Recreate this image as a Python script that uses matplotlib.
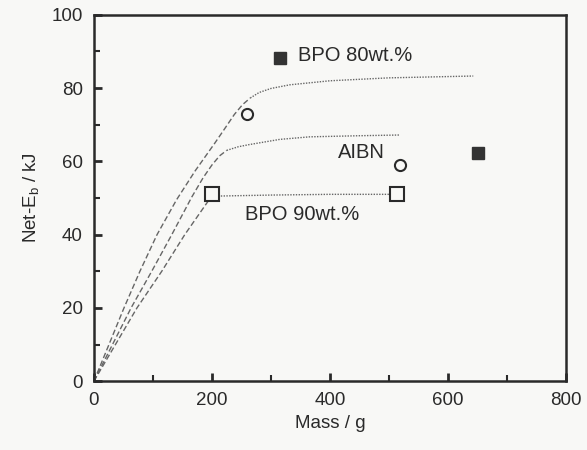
import numpy as np
import matplotlib.pyplot as plt
from matplotlib.ticker import MultipleLocator

# curves: rising (dashed) part and plateau (dotted) part
bpo80_rise_x = [0, 51, 78, 107, 140, 172, 205, 222, 238, 252, 265]
bpo80_rise_y = [0, 20, 30, 40, 49.5, 57.5, 65, 69, 72.8, 75.5, 77.3]
bpo80_flat_x = [265, 280, 300, 332, 400, 500, 643]
bpo80_flat_y = [77.3, 78.8, 79.9, 80.9, 82, 82.8, 83.3]

aibn_rise_x = [0, 63, 98, 132, 166, 185, 200, 213, 225]
aibn_rise_y = [0, 20, 30, 40, 50.3, 55.5, 59, 61.5, 63]
aibn_flat_x = [225, 245, 264, 315, 366, 450, 519]
aibn_flat_y = [63, 64, 64.6, 66.0, 66.7, 67.0, 67.2]

bpo90_rise_x = [0, 73, 115, 154, 180, 193, 201]
bpo90_rise_y = [0, 20, 30, 40, 46, 49, 50.5]
bpo90_flat_x = [201, 300, 400, 514]
bpo90_flat_y = [50.5, 50.8, 51.0, 51.0]

# measured points
bpo80_pts_x = [316, 651]
bpo80_pts_y = [88.3, 62.3]
aibn_pts_x = [259, 519]
aibn_pts_y = [72.8, 59.0]
bpo90_pts_x = [201, 514]
bpo90_pts_y = [51.0, 51.0]

ink = '#2a2a2a'
bg = '#f8f8f6'

plt.rcParams['font.family'] = ['Liberation Sans', 'DejaVu Sans']

fig = plt.figure(figsize=(5.87, 4.5), dpi=100, facecolor=bg)
ax = fig.add_axes([0.160, 0.153, 0.804, 0.814])
ax.set_facecolor(bg)

#-----------------------------------------------------------------------------

line_col = '#666666'
ax.plot(bpo80_rise_x, bpo80_rise_y, color=line_col, lw=1.0, ls=(0, (4, 2)))
ax.plot(bpo80_flat_x, bpo80_flat_y, color=line_col, lw=1.0, ls=(0, (1, 1)))
ax.plot(aibn_rise_x, aibn_rise_y, color=line_col, lw=1.0, ls=(0, (4, 2)))
ax.plot(aibn_flat_x, aibn_flat_y, color=line_col, lw=1.0, ls=(0, (1, 1)))
ax.plot(bpo90_rise_x, bpo90_rise_y, color=line_col, lw=1.0, ls=(0, (4, 2)))
ax.plot(bpo90_flat_x, bpo90_flat_y, color=line_col, lw=1.0, ls=(0, (1, 1)))

ax.plot(bpo80_pts_x, bpo80_pts_y, 's', ms=8.5, color='#333333', mec='#333333', zorder=5)
ax.plot(aibn_pts_x, aibn_pts_y, 'o', ms=8, mfc=bg, mec=ink, mew=1.5, zorder=5)
ax.plot(bpo90_pts_x, bpo90_pts_y, 's', ms=9.5, mfc=bg, mec=ink, mew=1.5, zorder=5)

ax.text(346, 89, 'BPO 80wt.%', fontsize=14.5, color=ink, va='center', ha='left')
ax.text(413, 62.3, 'AIBN', fontsize=14.5, color=ink, va='center', ha='left')
ax.text(256, 45.4, 'BPO 90wt.%', fontsize=14.5, color=ink, va='center', ha='left')

#-----------------------------------------------------------------------------

ax.set_xlim(0, 800)
ax.set_ylim(0, 100)
ax.xaxis.set_major_locator(MultipleLocator(200))
ax.xaxis.set_minor_locator(MultipleLocator(100))
ax.yaxis.set_major_locator(MultipleLocator(20))
ax.yaxis.set_minor_locator(MultipleLocator(10))
ax.tick_params(which='both', direction='in', top=False, right=False,
               colors=ink, labelsize=13.5, pad=8)
ax.tick_params(which='major', length=6, width=2)
ax.tick_params(which='minor', length=4, width=1.5)
for s in ax.spines.values():
    s.set_linewidth(1.8)
    s.set_color(ink)

ax.set_xlabel('Mass / g', fontsize=13.5, color=ink, labelpad=4)
ax.set_ylabel('Net-E$_\\mathregular{b}$ / kJ', fontsize=13.5, color=ink, labelpad=7)

fig.savefig('out.png', dpi=100, facecolor=bg)
